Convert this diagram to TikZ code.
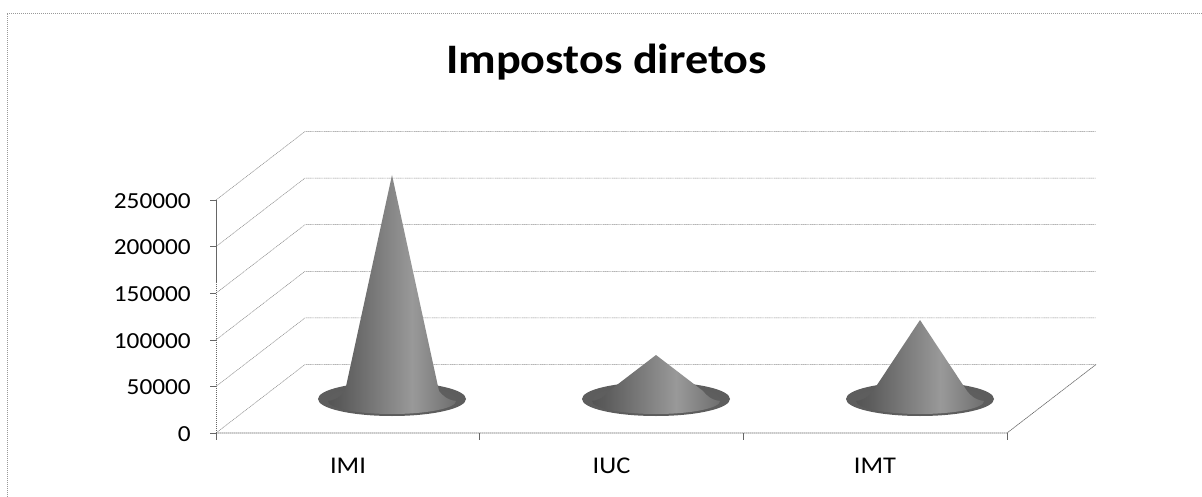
\documentclass[tikz,border=0pt]{standalone}
\usepackage{fontspec}
\setmainfont{Carlito}[FakeStretch=1.1]
\usetikzlibrary{calc}
\pgfdeclarehorizontalshading{conesh}{100bp}{color(0bp)=(black!72); color(12bp)=(black!74); color(30bp)=(black!64); color(58bp)=(black!40); color(78bp)=(black!60); color(90bp)=(black!76); color(100bp)=(black!70)}
\pgfdeclareradialshading{ringsh}{\pgfpoint{0bp}{0bp}}{color(0bp)=(black!62); color(32bp)=(black!64); color(40bp)=(black!50); color(46bp)=(black!25); color(50bp)=(white)}
\begin{document}
\begin{tikzpicture}[x=1pt,y=-1pt,
  gridline/.style={draw=black!45, line width=0.5pt, dash pattern=on 1.2pt off 0.6pt},
  axisline/.style={draw=black!60, line width=0.6pt, dash pattern=on 1.5pt off 0.5pt},
  frameline/.style={draw=black!40, line width=0.6pt, dash pattern=on 1pt off 1pt},
  ylab/.style={font=\fontsize{23}{25}\selectfont, anchor=east, inner sep=0pt},
  catlab/.style={font=\fontsize{24}{26}\selectfont, inner sep=0pt},
  titlelab/.style={font=\fontsize{42}{45}\selectfont\bfseries, anchor=base, inner sep=0pt},
  ring/.style={shading=ringsh},
  conebody/.style={shading=conesh}]
\useasboundingbox (0,0) rectangle (1202,497);
% frame
\coordinate (frBL) at (7,497);
\coordinate (frTL) at (7,13);
\coordinate (frTR) at (1202,13);
\draw[frameline] (frBL) -- (frTL) -- (frTR);
% title
\node[titlelab] (title) at (606.5,74) {Impostos diretos};
% grid, walls and value axis
\foreach \k/\v in {0/0,1/50000,2/100000,3/150000,4/200000,5/250000}{
  \coordinate (F\k) at (216,{433-46.6*\k});
  \coordinate (T\k) at (210,{433-46.6*\k});
  \coordinate (B\k) at (305,{364.5-46.6*\k});
  \coordinate (E\k) at (1096,{364.5-46.6*\k});
  \draw[gridline] (F\k) -- (B\k) -- (E\k);
  \draw[axisline] (T\k) -- (F\k);
  \node[ylab] (L\k) at (191,{434-46.6*\k}) {\v};
}
\draw[axisline] (F0) -- (F5);
% floor front edge and right edge
\coordinate (FR) at (1007,433);
\draw[axisline] (F0) -- (FR) -- (E0);
\foreach \i in {0,1,2,3}{
  \coordinate (X\i) at ({216+263.67*\i},433);
  \coordinate (XD\i) at ({216+263.67*\i},440);
  \draw[axisline] (X\i) -- (XD\i);
}
% category labels
\node[catlab] (cIMI) at (348,466) {IMI};
\node[catlab] (cIUC) at (611.5,466) {IUC};
\node[catlab] (cIMT) at (875,466) {IMT};
% cones
\foreach \n/\cx/\ay in {IMI/392/175, IUC/656/355, IMT/920/320}{
  \coordinate (base\n) at (\cx,399);
  \coordinate (apex\n) at (\cx,\ay);
  \coordinate (sl\n) at ({\cx-47},391);
  \coordinate (sr\n) at ({\cx+47},391);
  \coordinate (fl\n) at ({\cx-64},401);
  \shade[ring] (base\n) ellipse [x radius=74, y radius=17];
  \shade[conebody] (apex\n) -- (sl\n)
     .. controls ($(base\n)+(-50,-4)$) and ($(base\n)+(-55,1)$) .. (fl\n)
     arc[start angle=180, end angle=0, x radius=64, y radius=13]
     .. controls ($(base\n)+(55,1)$) and ($(base\n)+(50,-4)$) .. (sr\n) -- cycle;
}
\end{tikzpicture}
\end{document}
